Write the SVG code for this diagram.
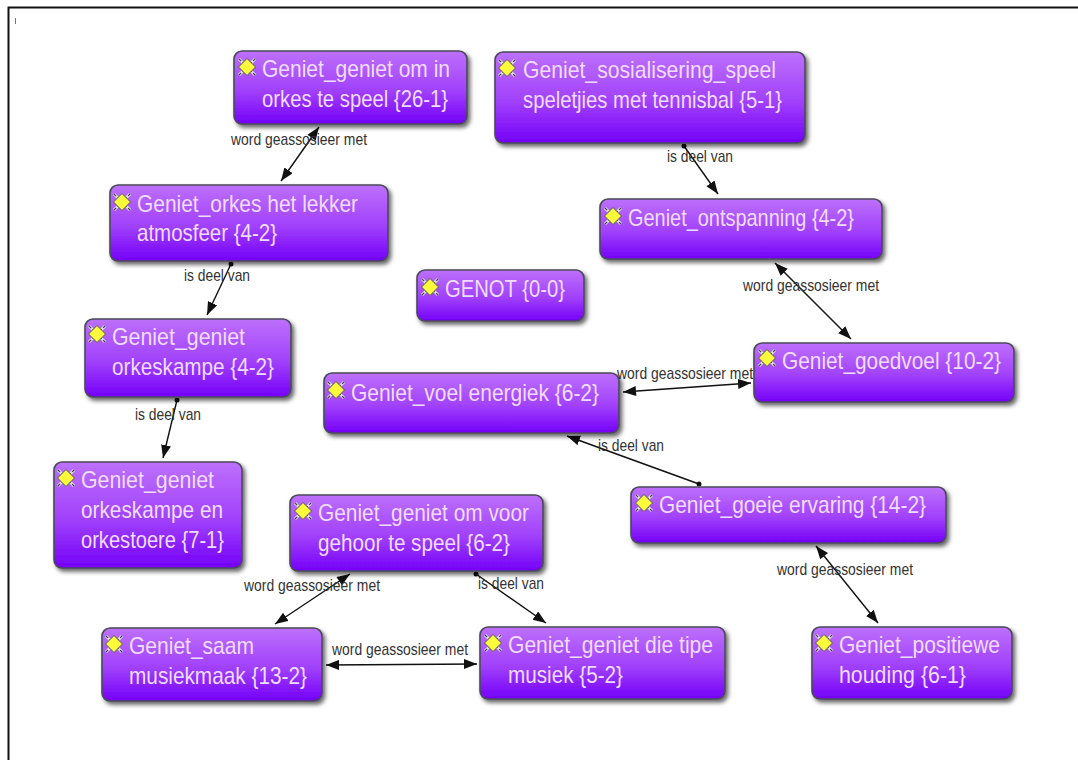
<svg xmlns="http://www.w3.org/2000/svg" width="1078" height="760" viewBox="0 0 1078 760">
<style>
.n{fill:url(#g);stroke:#4a4a5a;stroke-width:1.6;filter:url(#s)}
.t{font-family:"Liberation Sans",Arial,sans-serif;font-size:24px;fill:#f0dcff}
.l{font-family:"Liberation Sans",Arial,sans-serif;font-size:17px;fill:#333}
.c{stroke:#111;stroke-width:1.4;fill:none}
.e{marker-end:url(#a)}.b{marker-start:url(#as);marker-end:url(#a)}.d{marker-start:url(#o);marker-end:url(#a)}
</style>
<defs>
<linearGradient id="g" x1="0" y1="0" x2="0" y2="1"><stop offset="0" stop-color="#bd70fb"/><stop offset="0.55" stop-color="#a040fb"/><stop offset="1" stop-color="#7400f8"/></linearGradient>
<filter id="s" x="-10%" y="-15%" width="125%" height="135%"><feDropShadow dx="2.500" dy="3" stdDeviation="2" flood-color="#000" flood-opacity="0.6"/></filter>
<marker id="a" markerUnits="userSpaceOnUse" markerWidth="14" markerHeight="12" refX="13" refY="5" orient="auto"><path d="M0 0L13 5L0 10Z" fill="#111"/></marker>
<marker id="as" markerUnits="userSpaceOnUse" markerWidth="14" markerHeight="12" refX="0" refY="5" orient="auto"><path d="M13 0L0 5L13 10Z" fill="#111"/></marker>
<marker id="o" markerUnits="userSpaceOnUse" markerWidth="6" markerHeight="6" refX="3" refY="3"><circle cx="3" cy="3" r="2.5" fill="#111"/></marker>
<g id="i"><path d="M-8-8L8 8M-8 8L8-8" stroke="#ddd" stroke-width="3"/><path d="M-8-8L8 8M-8 8L8-8" stroke="#444" stroke-width="1.200" stroke-dasharray="3 2"/><path d="M0-8.500L8.500 0L0 8.500L-8.500 0Z" fill="#fbfb3c" stroke="#555" stroke-width="1"/></g>
</defs>
<rect width="1078" height="760" fill="#fff"/>
<path d="M8.500 760V7.500H1078" fill="none" stroke="#111" stroke-width="2"/>
<path d="M15.500 18V24" stroke="#777" stroke-width="1"/>

<g id="connectors">
<path class="c b" d="M319 127L281 181"/>
<path class="c d" d="M684 146L718 194"/>
<path class="c d" d="M231 264L207 315"/>
<path class="c b" d="M775 263L851 339"/>
<path class="c d" d="M177 400L163 458"/>
<path class="c b" d="M623 392L751 383"/>
<path class="c d" d="M699 484L567 436"/>
<path class="c b" d="M350 574L275 624"/>
<path class="c d" d="M476 574L546 623"/>
<path class="c b" d="M816 546L878 623"/>
<path class="c b" d="M326 665L477 664"/>
</g>
<g id="labels">
<text class="l" x="231" y="145" textLength="136" lengthAdjust="spacingAndGlyphs">word geassosieer met</text>
<text class="l" x="667" y="162" textLength="66" lengthAdjust="spacingAndGlyphs">is deel van</text>
<text class="l" x="184" y="281" textLength="66" lengthAdjust="spacingAndGlyphs">is deel van</text>
<text class="l" x="743" y="291" textLength="136" lengthAdjust="spacingAndGlyphs">word geassosieer met</text>
<text class="l" x="617" y="379" textLength="136" lengthAdjust="spacingAndGlyphs">word geassosieer met</text>
<text class="l" x="135" y="420" textLength="66" lengthAdjust="spacingAndGlyphs">is deel van</text>
<text class="l" x="598" y="451" textLength="66" lengthAdjust="spacingAndGlyphs">is deel van</text>
<text class="l" x="777" y="575" textLength="136" lengthAdjust="spacingAndGlyphs">word geassosieer met</text>
<text class="l" x="244" y="591" textLength="136" lengthAdjust="spacingAndGlyphs">word geassosieer met</text>
<text class="l" x="478" y="589" textLength="66" lengthAdjust="spacingAndGlyphs">is deel van</text>
<text class="l" x="332" y="655" textLength="136" lengthAdjust="spacingAndGlyphs">word geassosieer met</text>
</g>

<g id="n1"><rect class="n" x="234" y="51" width="233" height="73" rx="8"/><use href="#i" x="247" y="67"/><text class="t" x="262" y="77" textLength="188" lengthAdjust="spacingAndGlyphs">Geniet_geniet om in</text><text class="t" x="262" y="107" textLength="186" lengthAdjust="spacingAndGlyphs">orkes te speel {26-1}</text></g>
<g id="n2"><rect class="n" x="495" y="52" width="310" height="91" rx="8"/><use href="#i" x="507" y="68"/><text class="t" x="523" y="78" textLength="253" lengthAdjust="spacingAndGlyphs">Geniet_sosialisering_speel</text><text class="t" x="523" y="108" textLength="259" lengthAdjust="spacingAndGlyphs">speletjies met tennisbal {5-1}</text></g>
<g id="n3"><rect class="n" x="110" y="185" width="278" height="76" rx="8"/><use href="#i" x="122" y="202"/><text class="t" x="137" y="212" textLength="221" lengthAdjust="spacingAndGlyphs">Geniet_orkes het lekker</text><text class="t" x="137" y="241" textLength="140" lengthAdjust="spacingAndGlyphs">atmosfeer {4-2}</text></g>
<g id="n4"><rect class="n" x="600" y="199" width="282" height="60" rx="8"/><use href="#i" x="613" y="216"/><text class="t" x="628" y="226" textLength="226" lengthAdjust="spacingAndGlyphs">Geniet_ontspanning {4-2}</text></g>
<g id="n5"><rect class="n" x="417" y="270" width="167" height="51" rx="8"/><use href="#i" x="430" y="287"/><text class="t" x="445" y="297" textLength="120" lengthAdjust="spacingAndGlyphs">GENOT {0-0}</text></g>
<g id="n6"><rect class="n" x="85" y="319" width="206" height="78" rx="8"/><use href="#i" x="97" y="334"/><text class="t" x="112" y="345" textLength="133" lengthAdjust="spacingAndGlyphs">Geniet_geniet</text><text class="t" x="112" y="375" textLength="162" lengthAdjust="spacingAndGlyphs">orkeskampe {4-2}</text></g>
<g id="n7"><rect class="n" x="754" y="343" width="260" height="59" rx="8"/><use href="#i" x="767" y="358"/><text class="t" x="782" y="369" textLength="219" lengthAdjust="spacingAndGlyphs">Geniet_goedvoel {10-2}</text></g>
<g id="n8"><rect class="n" x="324" y="373" width="295" height="60" rx="8"/><use href="#i" x="336" y="390"/><text class="t" x="351" y="401" textLength="248" lengthAdjust="spacingAndGlyphs">Geniet_voel energiek {6-2}</text></g>
<g id="n9"><rect class="n" x="54" y="462" width="188" height="106" rx="8"/><use href="#i" x="66" y="478"/><text class="t" x="81" y="488" textLength="133" lengthAdjust="spacingAndGlyphs">Geniet_geniet</text><text class="t" x="81" y="518" textLength="142" lengthAdjust="spacingAndGlyphs">orkeskampe en</text><text class="t" x="81" y="548" textLength="143" lengthAdjust="spacingAndGlyphs">orkestoere {7-1}</text></g>
<g id="n10"><rect class="n" x="290" y="495" width="253" height="76" rx="8"/><use href="#i" x="303" y="511"/><text class="t" x="318" y="521" textLength="211" lengthAdjust="spacingAndGlyphs">Geniet_geniet om voor</text><text class="t" x="318" y="551" textLength="192" lengthAdjust="spacingAndGlyphs">gehoor te speel {6-2}</text></g>
<g id="n11"><rect class="n" x="631" y="487" width="315" height="56" rx="8"/><use href="#i" x="644" y="503"/><text class="t" x="659" y="513" textLength="267" lengthAdjust="spacingAndGlyphs">Geniet_goeie ervaring {14-2}</text></g>
<g id="n12"><rect class="n" x="102" y="628" width="220" height="73" rx="8"/><use href="#i" x="114" y="644"/><text class="t" x="129" y="654" textLength="125" lengthAdjust="spacingAndGlyphs">Geniet_saam</text><text class="t" x="129" y="684" textLength="178" lengthAdjust="spacingAndGlyphs">musiekmaak {13-2}</text></g>
<g id="n13"><rect class="n" x="480" y="627" width="245" height="72" rx="8"/><use href="#i" x="493" y="643"/><text class="t" x="508" y="653" textLength="205" lengthAdjust="spacingAndGlyphs">Geniet_geniet die tipe</text><text class="t" x="508" y="683" textLength="115" lengthAdjust="spacingAndGlyphs">musiek {5-2}</text></g>
<g id="n14"><rect class="n" x="812" y="627" width="200" height="72" rx="8"/><use href="#i" x="824" y="643"/><text class="t" x="839" y="653" textLength="161" lengthAdjust="spacingAndGlyphs">Geniet_positiewe</text><text class="t" x="839" y="683" textLength="127" lengthAdjust="spacingAndGlyphs">houding {6-1}</text></g>
</svg>
